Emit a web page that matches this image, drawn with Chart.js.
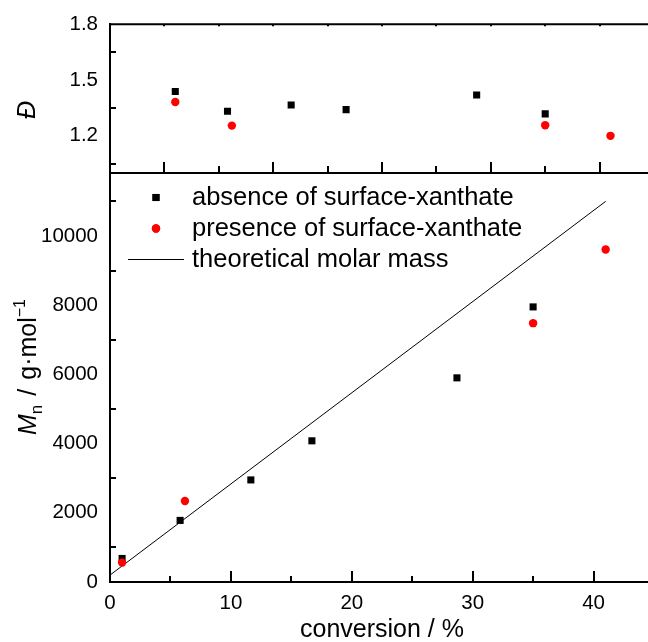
<!DOCTYPE html>
<html>
<head>
<meta charset="utf-8">
<script src="https://cdn.jsdelivr.net/npm/chart.js@4.4.1/dist/chart.umd.min.js"></script>
<style>
  html, body { margin: 0; padding: 0; background: #fff; }
  body { width: 648px; height: 642px; overflow: hidden; position: relative; }
  canvas { position: absolute; left: 0; top: 0; }
</style>
</head>
<body>
<canvas id="topChart" width="660" height="200"></canvas>
<canvas id="botChart" width="660" height="642"></canvas>
<script>
// ---------- data ----------
const convAbsence   = [1.0, 5.8, 11.65, 16.7, 28.7, 35.0];
const mnAbsence     = [680, 1780, 2950, 4080, 5900, 7950];
const dispAbsence   = [1.438, 1.332, 1.366, 1.341, 1.42, 1.318];

const convPresence  = [1.0, 6.2, 35.0, 41.0];
const mnPresence    = [560, 2340, 7480, 9610];
const dispPresence  = [1.382, 1.255, 1.257, 1.20];

const theoryConv    = [0, 41.0];
const theoryMn      = [200, 11000];

const seriesLabels  = ['absence of surface-xanthate', 'presence of surface-xanthate', 'theoretical molar mass'];

const xTickLabels   = [0, 10, 20, 30, 40];
const xMinorTicks   = [5, 15, 25, 35, 45];
const dispTickLabels = [1.2, 1.5, 1.8];
const dispMinorTicks = [1.05, 1.35, 1.65];
const mnTickLabels  = [0, 2000, 4000, 6000, 8000, 10000];
const mnMinorTicks  = [1000, 3000, 5000, 7000, 9000, 11000];

const FONT = "'Liberation Sans', Arial, Helvetica, sans-serif";
const pts = (xs, ys) => xs.map((x, i) => ({ x: x, y: ys[i] }));

// ---------- helpers ----------
function tickMarks(ctx, scale, values, len, area, axis) {
  ctx.save();
  ctx.strokeStyle = '#000';
  ctx.lineWidth = 2;
  ctx.beginPath();
  values.forEach(v => {
    const p = Math.round(scale.getPixelForValue(v));
    if (axis === 'xbottom') { ctx.moveTo(p, area.bottom); ctx.lineTo(p, area.bottom - len); }
    else if (axis === 'xtop') { ctx.moveTo(p, area.top); ctx.lineTo(p, area.top + len); }
    else { ctx.moveTo(area.left, p); ctx.lineTo(area.left + len, p); }
  });
  ctx.stroke();
  ctx.restore();
}

function rotatedRich(ctx, parts, cx, cy) {
  ctx.save();
  ctx.translate(cx, cy);
  ctx.rotate(-Math.PI / 2);
  ctx.fillStyle = '#000';
  ctx.textBaseline = 'alphabetic';
  let total = 0;
  parts.forEach(p => { ctx.font = p.font; total += ctx.measureText(p.text).width + (p.gap || 0); });
  let x = -total / 2;
  parts.forEach(p => {
    ctx.font = p.font;
    ctx.fillText(p.text, x, p.dy || 0);
    x += ctx.measureText(p.text).width + (p.gap || 0);
  });
  ctx.restore();
}

// ---------- top panel (dispersity) ----------
const topPlugin = {
  id: 'topDeco',
  afterDraw(chart) {
    const ctx = chart.ctx, a = chart.chartArea;
    const xs = chart.scales.x, ys = chart.scales.y;
    ctx.save();
    ctx.strokeStyle = '#000'; ctx.lineWidth = 2;
    ctx.beginPath(); ctx.moveTo(a.left - 1, a.top); ctx.lineTo(a.right, a.top); ctx.stroke();
    ctx.restore();
    tickMarks(ctx, xs, xTickLabels, 11, a, 'xbottom');
    tickMarks(ctx, xs, xMinorTicks, 7, a, 'xbottom');
    tickMarks(ctx, xs, xTickLabels.concat(xMinorTicks), 2, a, 'xtop');
    tickMarks(ctx, ys, dispMinorTicks, 6, a, 'yleft');
    rotatedRich(ctx, [{ text: '\u0110', font: 'italic 25px ' + FONT }], 35, 110);
  }
};

new Chart(document.getElementById('topChart'), {
  type: 'scatter',
  data: {
    datasets: [
      { label: seriesLabels[0], data: pts(convAbsence, dispAbsence), pointStyle: 'rect', pointRadius: 5,
        backgroundColor: '#000', borderColor: '#000', pointBorderWidth: 0, order: 2 },
      { label: seriesLabels[1], data: pts(convPresence, dispPresence), pointStyle: 'circle', pointRadius: 4.2,
        backgroundColor: '#ff0000', borderColor: '#ff0000', pointBorderWidth: 0, order: 1 }
    ]
  },
  options: {
    responsive: false, animation: false, devicePixelRatio: 1,
    layout: { padding: { top: 23, right: 6, left: 0, bottom: 0 } },
    plugins: { legend: { display: false }, tooltip: { enabled: false } },
    scales: {
      x: {
        type: 'linear', min: -5, max: 45,
        grid: { display: false, drawTicks: false },
        border: { display: true, color: '#000', width: 2 },
        ticks: { display: false },
        afterFit: s => { s.height = 27; }
      },
      y: {
        type: 'linear', min: 1.0, max: 1.8,
        grid: { display: false, drawTicks: false },
        border: { display: true, color: '#000', width: 2 },
        afterBuildTicks: s => { s.ticks = dispTickLabels.map(v => ({ value: v })); },
        ticks: { color: '#000', padding: 12, font: { family: FONT, size: 20.5 }, callback: v => v.toFixed(1) },
        afterFit: s => { s.width = 110; }
      }
    }
  },
  plugins: [topPlugin]
});

// ---------- bottom panel (molar mass) ----------
const botPlugin = {
  id: 'botDeco',
  afterDraw(chart) {
    const ctx = chart.ctx, a = chart.chartArea;
    const xs = chart.scales.x, ys = chart.scales.y;
    tickMarks(ctx, xs, xTickLabels, 11, a, 'xbottom');
    tickMarks(ctx, xs, xMinorTicks, 6, a, 'xbottom');
    tickMarks(ctx, ys, mnMinorTicks, 6, a, 'yleft');
    rotatedRich(ctx, [
      { text: 'M', font: 'italic 25px ' + FONT },
      { text: 'n', font: '17px ' + FONT, dy: 6, gap: 9 },
      { text: '/', font: '25px ' + FONT, gap: 9 },
      { text: 'g\u00B7mol', font: '25px ' + FONT },
      { text: '\u22121', font: '16px ' + FONT, dy: -11 }
    ], 36, 367);
    const rows = [197.5, 228.5, 259.5];
    const ds = chart.data.datasets;
    ctx.save();
    ctx.font = '25.5px ' + FONT;
    ctx.textBaseline = 'middle';
    ctx.textAlign = 'left';
    [0, 1, 2].forEach((di, i) => {
      const d = ds[di], y = rows[i];
      if (d.showLine) {
        ctx.save(); ctx.strokeStyle = d.borderColor; ctx.lineWidth = d.borderWidth;
        ctx.beginPath(); ctx.moveTo(128, y); ctx.lineTo(184, y); ctx.stroke(); ctx.restore();
      } else {
        ctx.save(); ctx.fillStyle = d.backgroundColor; ctx.strokeStyle = d.backgroundColor;
        Chart.helpers.drawPoint(ctx, { pointStyle: d.pointStyle, radius: d.pointRadius, borderWidth: 0, rotation: 0 }, 156, y);
        ctx.fill();
        ctx.restore();
      }
      ctx.fillStyle = '#000';
      ctx.fillText(d.label, 192, y);
    });
    ctx.restore();
  }
};

new Chart(document.getElementById('botChart'), {
  type: 'scatter',
  data: {
    datasets: [
      { label: seriesLabels[0], data: pts(convAbsence, mnAbsence), pointStyle: 'rect', pointRadius: 5,
        backgroundColor: '#000', borderColor: '#000', pointBorderWidth: 0, order: 2 },
      { label: seriesLabels[1], data: pts(convPresence, mnPresence), pointStyle: 'circle', pointRadius: 4.2,
        backgroundColor: '#ff0000', borderColor: '#ff0000', pointBorderWidth: 0, order: 1 },
      { label: seriesLabels[2], type: 'line', data: pts(theoryConv, theoryMn), showLine: true,
        borderColor: '#000', borderWidth: 1, pointRadius: 0, fill: false, order: 3 }
    ]
  },
  options: {
    responsive: false, animation: false, devicePixelRatio: 1,
    layout: { padding: { top: 173, right: 6, left: 0, bottom: 0 } },
    plugins: { legend: { display: false }, tooltip: { enabled: false } },
    scales: {
      x: {
        type: 'linear', min: 0, max: 45,
        grid: { display: false, drawTicks: false },
        border: { display: true, color: '#000', width: 2 },
        afterBuildTicks: s => { s.ticks = xTickLabels.map(v => ({ value: v })); },
        ticks: { color: '#000', padding: 9, maxRotation: 0, font: { family: FONT, size: 20.5 } },
        title: { display: true, text: 'conversion / %', color: '#000', font: { family: FONT, size: 25, lineHeight: 1 }, padding: { top: 0, bottom: -1 } },
        afterFit: s => { s.height = 60; }
      },
      y: {
        type: 'linear', min: 0, max: 11820,
        grid: { display: false, drawTicks: false },
        border: { display: true, color: '#000', width: 2 },
        afterBuildTicks: s => { s.ticks = mnTickLabels.map(v => ({ value: v })); },
        ticks: { color: '#000', padding: 12, font: { family: FONT, size: 20.5 }, callback: v => String(v) },
        afterFit: s => { s.width = 110; }
      }
    }
  },
  plugins: [botPlugin]
});
</script>
</body>
</html>
